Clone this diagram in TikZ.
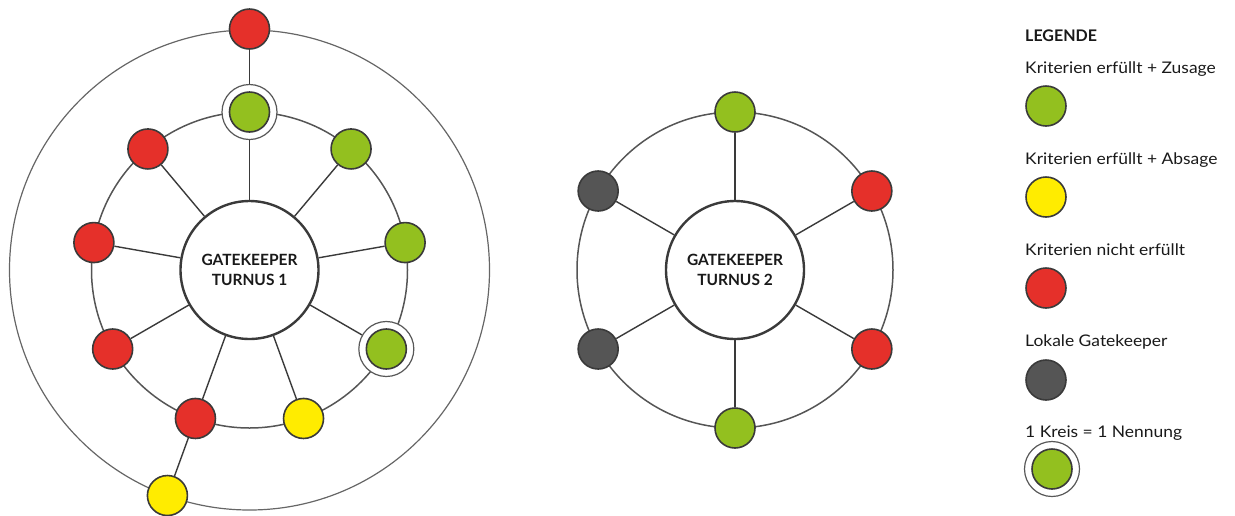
\documentclass[tikz,border=0pt]{standalone}
\usepackage{fontspec}
\setmainfont{Lato}
\newfontfamily\legfont{Lato}[FakeStretch=1.09]
\usetikzlibrary{calc}
\definecolor{okgreen}{HTML}{93C01F}
\definecolor{nored}{HTML}{E5302A}
\definecolor{ayellow}{HTML}{FFEC00}
\definecolor{localgray}{HTML}{555555}
\definecolor{linegray}{HTML}{555555}
\definecolor{edgegray}{HTML}{3A3A3A}
\begin{document}
\begin{tikzpicture}[x=1pt,y=-1pt,
  dot/.style={circle,draw=edgegray,line width=1.6pt,minimum size=40pt,inner sep=0pt},
  green/.style={dot,fill=okgreen},
  red/.style={dot,fill=nored},
  yellow/.style={dot,fill=ayellow},
  local/.style={dot,fill=localgray},
  halo/.style={circle,draw=edgegray!85,line width=1.2pt,fill=white,minimum size=55pt,inner sep=0pt},
  hub/.style={circle,draw=edgegray,line width=2.4pt,fill=white,minimum size=138pt,inner sep=0pt,
    font=\fontsize{15.5}{20}\selectfont\bfseries,align=center,text=black!90},
  ring/.style={draw=linegray,line width=1.5pt},
  spoke/.style={draw=edgegray,line width=1.4pt},
  outer/.style={draw=linegray!90,line width=1.2pt},
  legtext/.style={anchor=base west,inner sep=0pt,font=\legfont\fontsize{16}{19}\selectfont,text=black!90}
]
\useasboundingbox (0,0) rectangle (1235,515);

% ---------- Turnus 1 (screen angles, y axis points down) ----------
\coordinate (A) at (249.5,270);
\draw[outer] (A) circle (240);
\draw[ring] (A) circle (158);
\node[hub] (h1) at (A) {GATEKEEPER\\TURNUS 1};

% halos for double mentions
\node[halo] (haA) at ($(A)+(-90:158)$) {};
\node[halo] (haB) at ($(A)+(30:158)$) {};

% ring members
\node[green]  (a1) at ($(A)+(-90:158)$) {};
\node[green]  (a2) at ($(A)+(-50:158)$) {};
\node[red]    (a3) at ($(A)+(-130:158)$) {};
\node[green]  (a4) at ($(A)+(-10:158)$) {};
\node[red]    (a5) at ($(A)+(-170:158)$) {};
\node[green]  (a6) at ($(A)+(30:158)$) {};
\node[red]    (a7) at ($(A)+(150:158)$) {};
\node[yellow] (a8) at ($(A)+(70:158)$) {};
\node[red]    (a9) at ($(A)+(110:158)$) {};

% outer members
\node[red]    (o1) at ($(A)+(-90:241)$) {};
\node[yellow] (o2) at ($(A)+(110:240)$) {};

\foreach \n in {a2,a3,a4,a5,a7,a8,a9} \draw[spoke] (h1) -- (\n);
\draw[spoke] (h1) -- (haA);
\draw[spoke] (h1) -- (haB);
\draw[spoke] (o1) -- (haA);
\draw[spoke] (a9) -- (o2);

% ---------- Turnus 2 ----------
\coordinate (B) at (735,270);
\draw[ring] (B) circle (158);
\node[hub] (h2) at (B) {GATEKEEPER\\TURNUS 2};
\node[green] (b1) at ($(B)+(-90:158)$) {};
\node[red]   (b2) at ($(B)+(-30:158)$) {};
\node[red]   (b3) at ($(B)+(30:158)$) {};
\node[green] (b4) at ($(B)+(90:158)$) {};
\node[local] (b5) at ($(B)+(150:158)$) {};
\node[local] (b6) at ($(B)+(-150:158)$) {};
\foreach \n in {b1,b2,b3,b4,b5,b6} \draw[spoke] (h2) -- (\n);

% ---------- Legend ----------
\node[legtext,font=\fontsize{16}{19}\selectfont\bfseries] (lt) at (1025,41) {LEGENDE};
\node[legtext] (l1) at (1025,73)  {Kriterien erfüllt + Zusage};
\node[green]   (c1) at (1046,106) {};
\node[legtext] (l2) at (1025,164) {Kriterien erfüllt + Absage};
\node[yellow]  (c2) at (1046,197) {};
\node[legtext] (l3) at (1025,255) {Kriterien nicht erfüllt};
\node[red]     (c3) at (1046,288) {};
\node[legtext] (l4) at (1025,346) {Lokale Gatekeeper};
\node[local]   (c4) at (1046,380) {};
\node[legtext] (l5) at (1025,437) {1 Kreis = 1 Nennung};
\node[halo]    (c5h) at (1052,469) {};
\node[green]   (c5) at (1052,469) {};
\end{tikzpicture}
\end{document}
